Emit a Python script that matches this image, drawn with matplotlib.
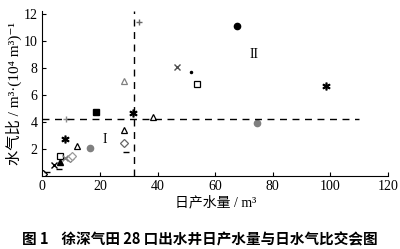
import matplotlib.pyplot as plt

plt.rcParams['font.family'] = ['Liberation Serif', 'Noto Sans CJK SC', 'DejaVu Sans']

# daily water production (m3) and water-gas ratio, grouped by marker style
pts = [
    # x, y, marker, color, filled
    (0.2, 0.1, 'D', 'k', False),
    (1.6, 0.3, '_', 'k', True),
    (3.9, 0.75, 'x', 'k', True),
    (5.7, 0.45, '_', 'k', True),
    (6.2, 1.0, '^', 'k', True),
    (6.0, 1.46, 's', 'k', False),
    (7.7, 1.3, 'x', '0.5', True),
    (9.5, 1.3, 'D', '0.5', False),
    (10.2, 1.45, 'D', '0.6', False),
    (8.2, 4.2, '+', '0.55', True),
    (7.7, 2.7, '$*$', 'k', True),
    (12.0, 2.2, '^', 'k', False),
    (16.4, 2.07, 'o', '0.5', True),
    (18.6, 4.7, 's', 'k', True),
    (28.4, 7.0, '^', '0.5', False),
    (28.4, 3.37, '^', 'k', False),
    (28.2, 2.4, 'D', '0.4', False),
    (29.1, 1.78, '_', 'k', True),
    (31.6, 4.65, '$*$', 'k', True),
    (33.5, 11.4, '+', '0.4', True),
    (38.4, 4.34, '^', 'k', False),
    (46.7, 8.07, 'x', '0.3', True),
    (51.7, 7.68, '.', 'k', True),
    (53.6, 6.83, 's', 'k', False),
    (67.7, 11.1, 'o', 'k', True),
    (74.5, 3.93, 'o', '0.5', True),
    (98.5, 6.66, '$*$', 'k', True),
]

wgr_cut = 4.2
water_cut = 31.7

fig = plt.figure(figsize=(4, 2.49), dpi=100)
ax = fig.add_axes([0.106, 0.295, 0.864, 0.66])

for x, y, m, c, filled in pts:
    size = 4.5
    if m == '.':
        size = 3
    if m == '$*$':
        size = 5
    if filled:
        ax.plot(x, y, marker=m, color=c, ms=size, mew=1, ls='none')
    else:
        ax.plot(x, y, marker=m, mfc='white', mec=c, ms=size, mew=0.9, ls='none')

ax.plot([0, 110], [wgr_cut, wgr_cut], 'k--', lw=1, dashes=(5, 4))
ax.plot([water_cut, water_cut], [0, 12.2], 'k--', lw=1, dashes=(5, 4))

ax.text(21.8, 2.7, 'I', fontsize=10, ha='center', va='center')
ax.text(73.5, 9.0, 'II', fontsize=10, ha='center', va='center')

ax.set_xlim(0, 120)
ax.set_ylim(0, 12.2)
ax.set_xticks([0, 20, 40, 60, 80, 100, 120])
ax.set_yticks([2, 4, 6, 8, 10, 12])
ax.spines['top'].set_visible(False)
ax.spines['right'].set_visible(False)
ax.tick_params(direction='in', length=3, labelsize=10)
ax.set_xlabel('日产水量 / m³', fontsize=10, labelpad=2)
ax.set_ylabel('水气比 / m³·(10⁴ m³)⁻¹', fontsize=11, labelpad=1)

fig.text(0.5, 0.02, '图 1    徐深气田 28 口出水井日产水量与日水气比交会图',
         ha='center', fontsize=10.5, fontweight='bold',
         family=['Noto Sans CJK SC', 'DejaVu Sans'])

fig.savefig('out.png')
